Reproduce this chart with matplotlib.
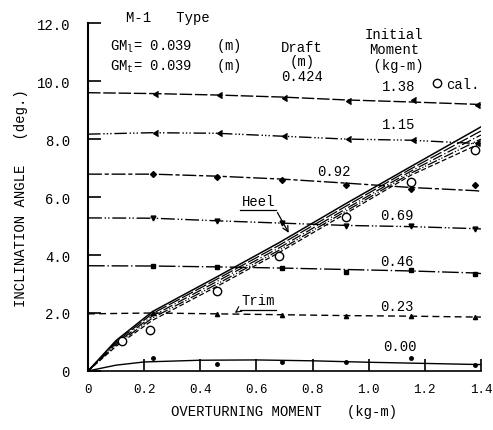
import matplotlib
matplotlib.use("Agg")
import matplotlib.pyplot as plt
from matplotlib.lines import Line2D

plt.rcParams['font.family'] = ['Liberation Mono', 'DejaVu Sans Mono']
plt.rcParams['mathtext.fontset'] = 'custom'
plt.rcParams['mathtext.rm'] = 'Liberation Mono'
plt.rcParams['mathtext.it'] = 'Liberation Mono'

# overturning moment (kg-m) at which the inclination was measured
moments = [0.23, 0.46, 0.69, 0.92, 1.15, 1.38]

# trim curves for each initial moment: smooth curve + measured points
curve_x = [0, 0.23, 0.46, 0.69, 0.92, 1.15, 1.38, 1.4]
trim_labels = ['1.38', '1.15', '0.92', '0.69', '0.46', '0.23', '0.00']
trim_curves = {
    '1.38': [9.60, 9.57, 9.52, 9.45, 9.35, 9.28, 9.20, 9.18],
    '1.15': [8.17, 8.22, 8.20, 8.10, 8.00, 7.96, 7.85, 7.83],
    '0.92': [6.79, 6.79, 6.72, 6.62, 6.48, 6.33, 6.22, 6.20],
    '0.69': [5.28, 5.27, 5.18, 5.10, 5.02, 4.98, 4.91, 4.90],
    '0.46': [3.63, 3.62, 3.59, 3.55, 3.50, 3.45, 3.38, 3.36],
    '0.23': [1.97, 2.00, 1.97, 1.94, 1.91, 1.89, 1.86, 1.86],
}
trim_points = {
    '1.38': [9.57, 9.52, 9.42, 9.30, 9.35, 9.18],
    '1.15': [8.22, 8.20, 8.10, 8.00, 7.97, 7.85],
    '0.92': [6.79, 6.69, 6.59, 6.41, 6.28, 6.41],
    '0.69': [5.27, 5.18, 5.10, 5.01, 4.99, 4.90],
    '0.46': [3.62, 3.59, 3.55, 3.40, 3.50, 3.35],
    '0.23': [2.00, 1.97, 1.93, 1.90, 1.90, 1.86],
    '0.00': [0.45, 0.24, 0.30, 0.32, 0.45, 0.22],
}
zero_x = [0, 0.1, 0.2, 0.4, 0.6, 0.8, 1.0, 1.2, 1.4]
zero_y = [0, 0.20, 0.31, 0.37, 0.38, 0.35, 0.30, 0.26, 0.22]

# heel curves (one per draft series)
heel_x = [0, 0.1, 0.23, 0.46, 0.68, 0.92, 1.15, 1.4]
heel_curves = [
    [0, 1.05, 2.05, 3.25, 4.42, 5.78, 7.05, 8.42],
    [0, 1.00, 1.98, 3.17, 4.33, 5.69, 6.97, 8.28],
    [0, 0.95, 1.90, 3.09, 4.24, 5.60, 6.89, 8.14],
    [0, 0.90, 1.83, 3.00, 4.16, 5.52, 6.82, 8.00],
    [0, 0.85, 1.75, 2.92, 4.08, 5.44, 6.75, 7.86],
]
# calculated heel angles
cal_x = [0.12, 0.22, 0.46, 0.68, 0.92, 1.15, 1.38]
cal_y = [1.03, 1.41, 2.76, 3.97, 5.31, 6.52, 7.62]

styles = {
    '1.38': dict(dashes=(9, 2), marker=4, ms=5),
    '1.15': dict(dashes=(9, 2, 1, 1.5, 1, 1.5, 1, 2), marker=4, ms=5),
    '0.92': dict(dashes=(10, 2, 3, 2), marker='D', ms=3),
    '0.69': dict(dashes=(10, 2, 1, 1.5, 1, 2), marker='v', ms=3.5),
    '0.46': dict(dashes=(12, 2, 1, 2), marker='s', ms=2.5),
    '0.23': dict(dashes=(5, 3), marker='^', ms=3),
}
heel_dashes = [None, (10, 2), (8, 2, 1, 2), (8, 1.5, 1, 1.5, 1, 1.5), (4, 2)]

fig = plt.figure(figsize=(4.93, 4.31), dpi=100)
ax = fig.add_axes([0.1785, 0.137, 0.797, 0.807])
lw = 1.0

for lab, ys in trim_curves.items():
    st = styles[lab]
    ax.plot(curve_x, ys, color='black', lw=lw, dashes=st['dashes'])
    ax.plot(moments, trim_points[lab], ls='none', color='black',
            marker=st['marker'], ms=st['ms'])
ax.plot(zero_x, zero_y, color='black', lw=lw)
ax.plot(moments, trim_points['0.00'], ls='none', color='black', marker='o', ms=2.5)

for ys, d in zip(heel_curves, heel_dashes):
    if d is None:
        ax.plot(heel_x, ys, color='black', lw=1.1)
    else:
        ax.plot(heel_x, ys, color='black', lw=0.9, dashes=d)
ax.plot(cal_x, cal_y, ls='none', marker='o', ms=6, mfc='white', mec='black', mew=1.0)

# curve labels
lab_pos = {'1.38': (1.106, 9.83), '1.15': (1.106, 8.52), '0.92': (0.876, 6.90),
           '0.69': (1.10, 5.38), '0.46': (1.10, 3.79), '0.23': (1.10, 2.24),
           '0.00': (1.113, 0.86)}
for lab in trim_labels:
    x, y = lab_pos[lab]
    ax.text(x, y, lab, ha='center', va='center', fontsize=10)

ax.text(0.284, 12.2, 'M-1   Type', ha='center', va='center', fontsize=10, clip_on=False)
ax.text(0.078, 11.24, r'GM$_\mathrm{l}$= 0.039   (m)', ha='left', va='center', fontsize=10)
ax.text(0.078, 10.55, r'GM$_\mathrm{t}$= 0.039   (m)', ha='left', va='center', fontsize=10)
ax.text(0.762, 10.68, 'Draft\n(m)\n0.424', ha='center', va='center', fontsize=10,
        linespacing=1.08)
ax.text(1.09, 11.1, 'Initial\nMoment\n (kg-m)', ha='center', va='center', fontsize=10,
        linespacing=1.12)

# Heel / Trim pointers
ax.text(0.607, 5.62, 'Heel', ha='center', va='bottom', fontsize=10)
ax.plot([0.54, 0.67], [5.55, 5.55], color='black', lw=0.9)
ax.annotate('', xy=(0.72, 4.68), xytext=(0.67, 5.55),
            arrowprops=dict(arrowstyle='->', lw=0.9, color='black'))
ax.text(0.607, 2.2, 'Trim', ha='center', va='bottom', fontsize=10)
ax.plot([0.54, 0.67], [2.12, 2.12], color='black', lw=0.9)
ax.annotate('', xy=(0.515, 1.95), xytext=(0.54, 2.12),
            arrowprops=dict(arrowstyle='->', lw=0.8, color='black'))

handle = Line2D([], [], ls='none', marker='o', ms=6, mfc='white', mec='black')
ax.legend([handle], ['cal.'], loc='center', bbox_to_anchor=(1.31, 9.9),
          bbox_transform=ax.transData, frameon=False, fontsize=10,
          handletextpad=0.3, handlelength=0.8)

ax.set_xlim(0, 1.4)
ax.set_ylim(0, 12)
ax.set_xticks([0, 0.2, 0.4, 0.6, 0.8, 1.0, 1.2, 1.4])
ax.set_xticklabels(['0', '0.2', '0.4', '0.6', '0.8', '1.0', '1.2', '1.4'])
ax.set_yticks([0, 2, 4, 6, 8, 10, 12])
ax.set_yticklabels(['0', '2.0', '4.0', '6.0', '8.0', '10.0', '12.0'])
ax.tick_params(direction='in', length=9, width=1.2, labelsize=10)
ax.tick_params(axis='x', labelsize=9, pad=9)
ax.tick_params(axis='y', pad=13)
ax.spines['top'].set_visible(False)
ax.spines['right'].set_visible(False)
ax.spines['left'].set_linewidth(1.5)
ax.spines['bottom'].set_linewidth(1.2)
ax.set_xlabel('OVERTURNING MOMENT   (kg-m)', fontsize=10, labelpad=6)
ax.set_ylabel('INCLINATION ANGLE   (deg.)', fontsize=10, labelpad=6)

fig.savefig('out.png', dpi=100)
